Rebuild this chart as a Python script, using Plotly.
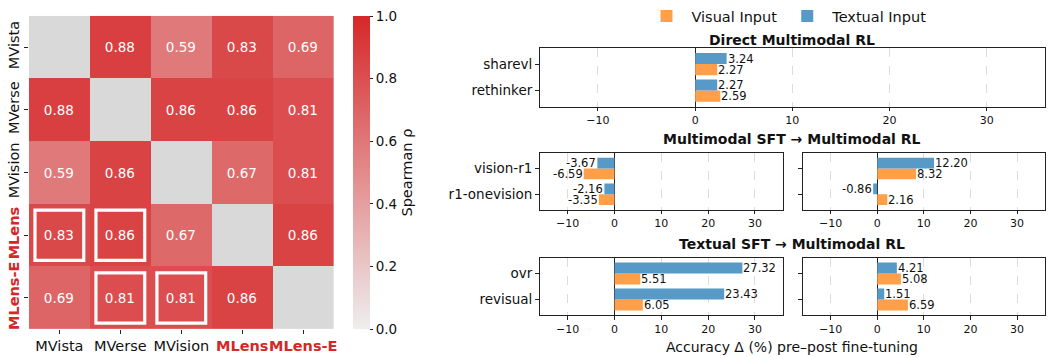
import numpy as np
import plotly.graph_objects as go

W, H = 1051, 358
FONT = "DejaVu Sans"
RED = "#d62728"
BLUE = "#5799c7"
ORANGE = "#ff9f4a"

# ---------------- data ----------------
bench = ["MVista", "MVerse", "MVision", "MLens", "MLens-E"]
highlight_bench = ["MLens", "MLens-E"]
corr_mvista = [None, 0.88, 0.59, 0.83, 0.69]
corr_mverse = [0.88, None, 0.86, 0.86, 0.81]
corr_mvision = [0.59, 0.86, None, 0.67, 0.81]
corr_mlens = [0.83, 0.86, 0.67, None, 0.86]
corr_mlens_e = [0.69, 0.81, 0.81, 0.86, None]
boxed_cells = [("MLens", "MVista"), ("MLens", "MVerse"),
               ("MLens-E", "MVerse"), ("MLens-E", "MVision")]

direct_models = ["sharevl", "rethinker"]
direct_visual = [2.27, 2.59]
direct_textual = [3.24, 2.27]

mmsft_models = ["vision-r1", "r1-onevision"]
mmsft_left_visual = [-6.59, -3.35]
mmsft_left_textual = [-3.67, -2.16]
mmsft_right_visual = [8.32, 2.16]
mmsft_right_textual = [12.20, -0.86]

txtsft_models = ["ovr", "revisual"]
txtsft_left_visual = [5.51, 6.05]
txtsft_left_textual = [27.32, 23.43]
txtsft_right_visual = [5.08, 6.59]
txtsft_right_textual = [4.21, 1.51]

cb_ticks = [0.0, 0.2, 0.4, 0.6, 0.8, 1.0]
x_ticks = [-10, 0, 10, 20, 30]

# ---------------- helpers ----------------
def px_x(p):
    return p / W

def px_y(p):
    return 1 - p / H

fig = go.Figure()

# ---------------- heatmap ----------------
rows = [corr_mvista, corr_mverse, corr_mvision, corr_mlens, corr_mlens_e]
z = np.array([[np.nan if v is None else v for v in r] for r in rows], dtype=float)
text = [["" if v is None else f"{v:.2f}" for v in r] for r in rows]
diag = np.where(np.isnan(z), 1.0, np.nan)

fig.add_trace(go.Heatmap(
    z=diag, x=bench, y=bench, xaxis="x", yaxis="y",
    colorscale=[[0, "#d9d9d9"], [1, "#d9d9d9"]], showscale=False,
    hoverinfo="skip"))
fig.add_trace(go.Heatmap(
    z=z, x=bench, y=bench, xaxis="x", yaxis="y",
    zmin=0, zmax=1,
    colorscale=[[0, "rgb(238,238,238)"], [1, "rgb(214,39,40)"]],
    text=text, texttemplate="%{text}",
    textfont=dict(family=FONT, size=13.5, color="white"),
    colorbar=dict(
        x=px_x(354), xanchor="left", xpad=0,
        y=px_y(171.5), yanchor="middle", ypad=0,
        len=317 / H, lenmode="fraction", thickness=17,
        outlinewidth=0, ticks="outside", ticklen=3.5, tickwidth=1,
        tickcolor="#222", tickvals=cb_ticks,
        ticktext=[f"{t:.1f}" for t in cb_ticks],
        tickfont=dict(family=FONT, size=13.5, color="#111"),
        title=dict(text="Spearman ρ", side="right",
                   font=dict(family=FONT, size=14.5, color="#111")),
    ),
))

def tick_label(name):
    if name in highlight_bench:
        return f"<b><span style='color:{RED}'>{name}</span></b>"
    return name

ticktext = [tick_label(b) for b in bench]

axis_font = dict(family=FONT, size=14.5, color="#111")
fig.update_layout(
    xaxis=dict(domain=[px_x(29), px_x(335)], anchor="y", range=[-0.5, 4.5],
               tickvals=list(range(5)), ticktext=ticktext, ticks="outside",
               ticklen=3.5, tickwidth=1, tickcolor="#222", showgrid=False,
               zeroline=False, tickfont=axis_font, tickangle=0),
    yaxis=dict(domain=[px_y(330), px_y(13)], anchor="x", range=[4.5, -0.5],
               tickvals=list(range(5)), ticktext=ticktext, ticks="outside",
               ticklen=3.5, tickwidth=1, tickcolor="#222", showgrid=False,
               zeroline=False, tickfont=axis_font, tickangle=-90),
)

shapes = []
for r_name, c_name in boxed_cells:
    r = bench.index(r_name)
    c = bench.index(c_name)
    shapes.append(dict(type="rect", xref="x", yref="y",
                       x0=c - 0.4, x1=c + 0.4, y0=r - 0.4, y1=r + 0.4,
                       line=dict(color="white", width=3.2)))

# ---------------- bar panels ----------------
BAR_W = 0.42
LABEL_FONT = dict(family=FONT, size=11.5, color="#111")
panels = [
    # (axis index, models, visual, textual, xdom px, ydom px, show y labels)
    (2, direct_models, direct_visual, direct_textual, (541.7, 1049), (104.7, 45.7), True),
    (3, mmsft_models, mmsft_left_visual, mmsft_left_textual, (541.7, 786), (209, 151.7), True),
    (4, mmsft_models, mmsft_right_visual, mmsft_right_textual, (805.7, 1049), (209, 151.7), False),
    (5, txtsft_models, txtsft_left_visual, txtsft_left_textual, (541.7, 786), (315.7, 257.7), True),
    (6, txtsft_models, txtsft_right_visual, txtsft_right_textual, (805.7, 1049), (315.7, 257.7), False),
]

annotations = []
first = True
for idx, models, vis, txt, xd, yd, showlab in panels:
    xa, ya = f"x{idx}", f"y{idx}"
    fig.add_trace(go.Bar(
        y=models, x=vis, orientation="h", xaxis=xa, yaxis=ya,
        name="Visual Input", marker=dict(color=ORANGE, line=dict(width=0)),
        offset=0, width=BAR_W, showlegend=first, legendgroup="v"))
    fig.add_trace(go.Bar(
        y=models, x=txt, orientation="h", xaxis=xa, yaxis=ya,
        name="Textual Input", marker=dict(color=BLUE, line=dict(width=0)),
        offset=-BAR_W, width=BAR_W, showlegend=first, legendgroup="t"))
    first = False
    # value labels at bar ends
    for i, m in enumerate(models):
        for val, off in ((txt[i], -BAR_W / 2), (vis[i], BAR_W / 2)):
            annotations.append(dict(
                text=f"{val:.2f}", xref=xa, yref=ya, x=val, y=i + off,
                xanchor="left" if val >= 0 else "right", yanchor="middle",
                showarrow=False, borderpad=0, font=LABEL_FONT))
    fig.layout[f"xaxis{idx}"] = dict(
        domain=[px_x(xd[0]), px_x(xd[1])], anchor=ya, range=[-16, 36],
        tickvals=x_ticks, ticks="outside", ticklen=3.5, tickwidth=1,
        tickcolor="#222", showgrid=True, griddash="dash", gridcolor="#dcdcdc",
        gridwidth=0.8, zeroline=True, zerolinecolor="#222", zerolinewidth=1.2,
        showline=True, mirror=True, linecolor="#222", linewidth=1.2,
        tickfont=dict(family=FONT, size=11, color="#111"))
    fig.layout[f"yaxis{idx}"] = dict(
        domain=[px_y(yd[0]), px_y(yd[1])], anchor=xa, type="category",
        categoryorder="array", categoryarray=models, range=[1.6, -0.6],
        ticks="outside", ticklen=3.5, tickwidth=1, tickcolor="#222",
        showticklabels=showlab, showgrid=False, zeroline=False,
        showline=True, mirror=True, linecolor="#222", linewidth=1.2,
        tickfont=dict(family=FONT, size=13.5, color="#111"))

for title, ypx in [("<b>Direct Multimodal RL</b>", 37),
                   ("<b>Multimodal SFT → Multimodal RL</b>", 138),
                   ("<b>Textual SFT → Multimodal RL</b>", 244)]:
    annotations.append(dict(text=title, xref="paper", yref="paper",
                            x=px_x(795), y=px_y(ypx), xanchor="center",
                            yanchor="middle", showarrow=False,
                            font=dict(family=FONT, size=14, color="#111")))
annotations.append(dict(text="Accuracy Δ (%) pre–post fine-tuning",
                        xref="paper", yref="paper", x=px_x(795), y=px_y(348),
                        xanchor="center", yanchor="middle", showarrow=False,
                        font=dict(family=FONT, size=14, color="#111")))

fig.update_layout(
    width=W, height=H, autosize=False,
    margin=dict(l=0, r=0, t=0, b=0),
    paper_bgcolor="white", plot_bgcolor="white",
    font=dict(family=FONT, color="#111"),
    barmode="overlay",
    shapes=shapes, annotations=annotations,
    legend=dict(orientation="h", x=px_x(790), y=px_y(13), xanchor="center",
                yanchor="middle", font=dict(family=FONT, size=14.5, color="#111"),
                bgcolor="rgba(0,0,0,0)", itemwidth=40, traceorder="normal"),
)

fig.write_html("out.html")
